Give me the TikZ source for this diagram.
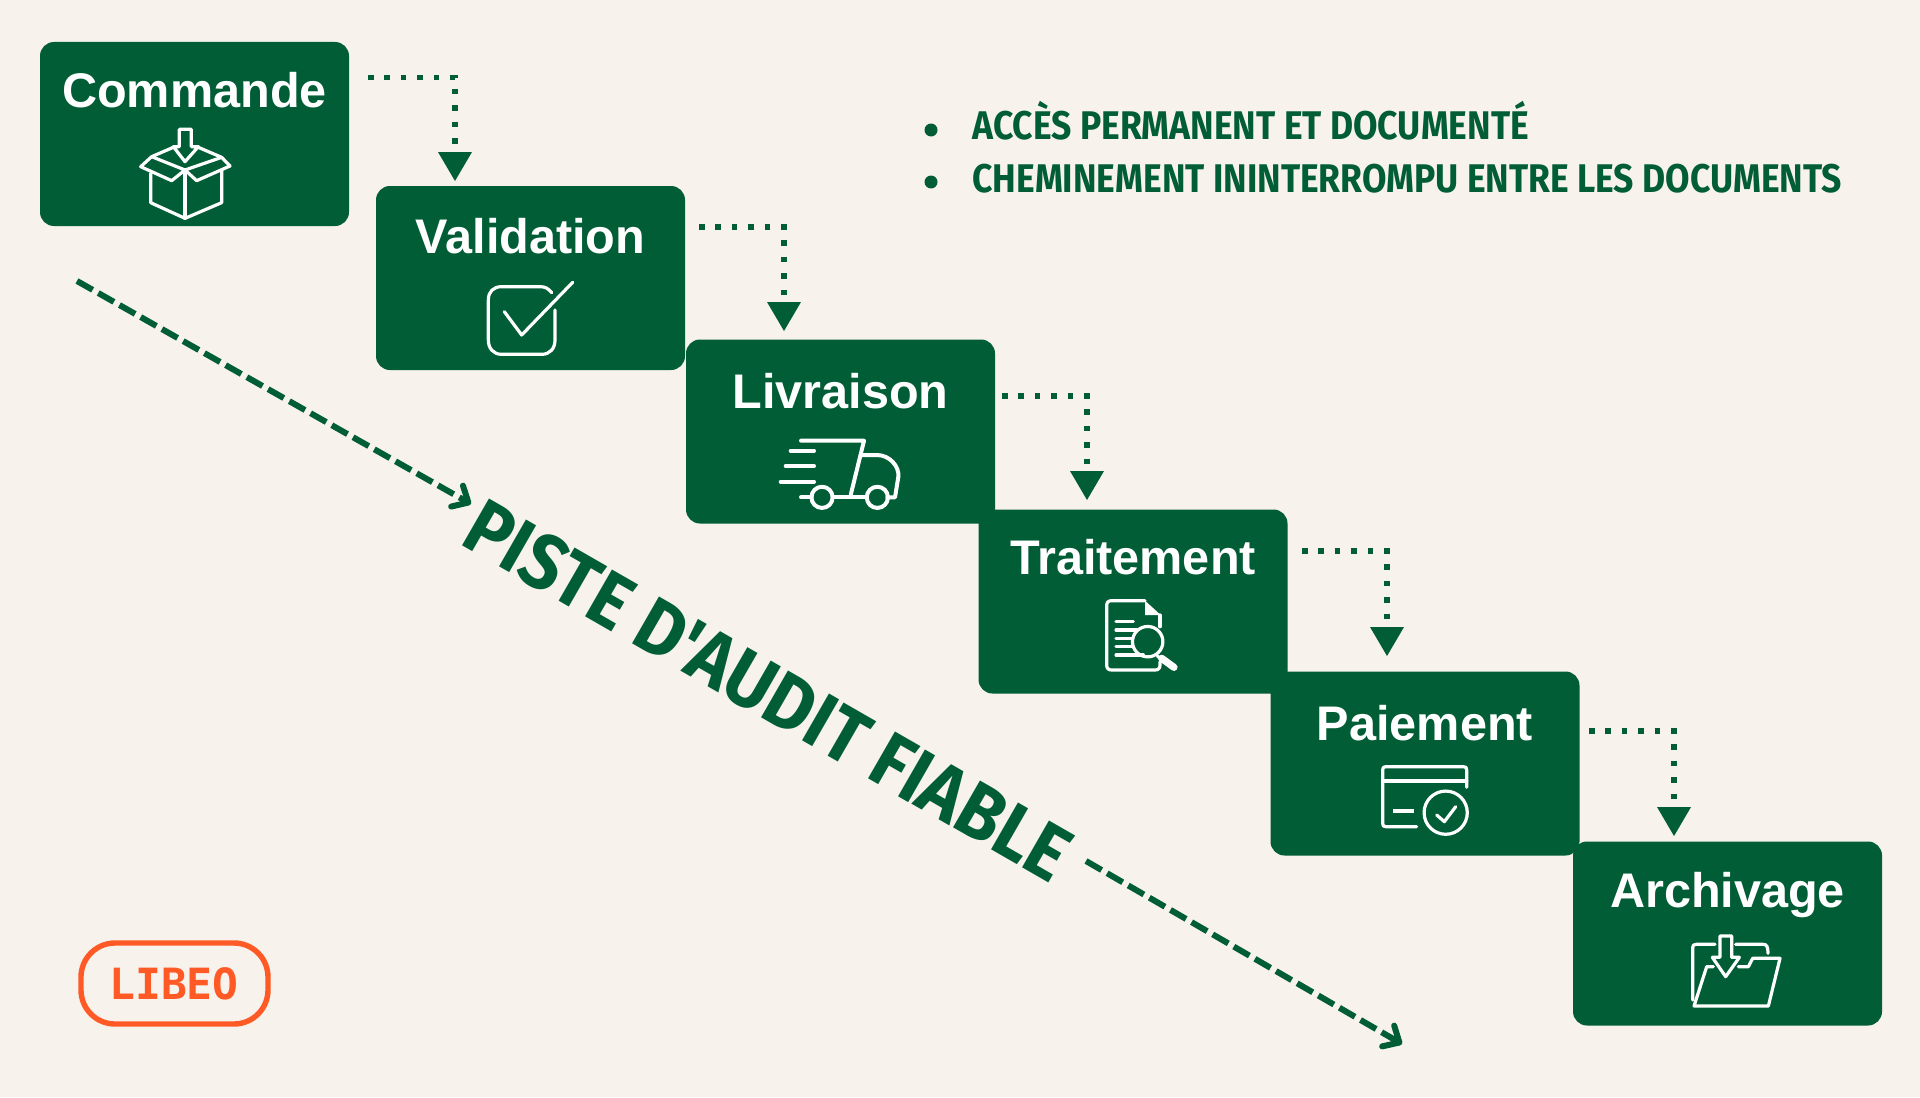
\documentclass[tikz,border=0pt]{standalone}
\usepackage{fontspec}
\setmainfont{Liberation Sans}
\newfontfamily\condfont[FakeStretch=0.887]{Fira Sans}
\newfontfamily\titlefont[FakeStretch=0.915]{Fira Sans}
\newfontfamily\logofont{DejaVu Sans Mono}
\usetikzlibrary{arrows.meta}
\definecolor{pagebg}{HTML}{F7F2EB}
\definecolor{libgreen}{HTML}{005D35}
\definecolor{liborange}{HTML}{FF5A26}
\tikzset{
  stepbox/.style={fill=libgreen,draw=none,rounded corners=7pt,minimum width=154.5pt,minimum height=92pt,inner sep=0pt,outer sep=0pt},
  steplabel/.style={anchor=base,text=white,font=\fontsize{24.3}{28}\selectfont\bfseries,inner sep=0pt},
  flowline/.style={libgreen,line width=2.8pt,dash pattern=on 2.8pt off 5.4pt},
  flowhead/.style={fill=libgreen,draw=none},
  auditline/.style={libgreen,line width=3pt,dash pattern=on 9pt off 3.2pt,-{Straight Barb[length=6.5pt,width=12pt,line width=3pt,round]}},
  iconline/.style={white,line width=1.6pt,line join=round,line cap=round},
  bullettext/.style={anchor=base west,text=libgreen,font=\condfont\fontsize{20}{24}\selectfont\bfseries,inner sep=0pt},
  bulletdot/.style={circle,fill=libgreen,minimum size=6.5pt,inner sep=0pt},
  zoomed/.style={x=0.16667pt,y=-0.16667pt},
}
\begin{document}
\begin{tikzpicture}[x=0.5pt,y=-0.5pt]
\fill[pagebg] (0,0) rectangle (1920,1097);
\useasboundingbox (0,0) rectangle (1920,1097);

% boxes
\node[stepbox] (cmd) at (194.5,134) {};
\node[stepbox] (val) at (530.5,278) {};
\node[stepbox] (liv) at (840.5,431.5) {};
\node[stepbox] (tra) at (1133,601.5) {};
\node[stepbox] (pai) at (1425,763.5) {};
\node[stepbox] (arc) at (1727.5,933.5) {};

\node[steplabel] (cmdt) at (194.5,107) {Commande};
\node[steplabel] (valt) at (530.5,253) {Validation};
\node[steplabel] (livt) at (840.5,408) {Livraison};
\node[steplabel] (trat) at (1133,574) {Traitement};
\node[steplabel] (ptxt) at (1425,740) {Paiement};
\node[steplabel] (arct) at (1727.5,907) {Archivage};

% dotted connectors
\coordinate (c1s) at (368,77.5);   \coordinate (c1c) at (455,77.5);   \coordinate (c1e) at (455,152);  \coordinate (c1t) at (455,181);
\coordinate (c2s) at (699,227);    \coordinate (c2c) at (784,227);    \coordinate (c2e) at (784,302);  \coordinate (c2t) at (784,331);
\coordinate (c3s) at (1002,396);   \coordinate (c3c) at (1087,396);   \coordinate (c3e) at (1087,471); \coordinate (c3t) at (1087,500);
\coordinate (c4s) at (1302,551);   \coordinate (c4c) at (1387,551);   \coordinate (c4e) at (1387,627); \coordinate (c4t) at (1387,656);
\coordinate (c5s) at (1589,731);   \coordinate (c5c) at (1674,731);   \coordinate (c5e) at (1674,807); \coordinate (c5t) at (1674,836);
\foreach \n in {1,...,5}{
  \draw[flowline] (c\n s) -- (c\n c) -- (c\n e);
  \fill[flowhead] ([xshift=-8.5pt]c\n e) -- ([xshift=8.5pt]c\n e) -- (c\n t) -- cycle;
}

% audit arrows
\coordinate (a1s) at (77,281);  \coordinate (a1e) at (471,504);
\coordinate (a2s) at (1086,861); \coordinate (a2e) at (1402,1044);
\draw[auditline] (a1s) -- (a1e);
\draw[auditline] (a2s) -- (a2e);

\node[rotate=-29.9,anchor=base,text=libgreen,inner sep=0pt,font=\titlefont\fontsize{39}{44}\selectfont\bfseries] (piste) at (755,714) {PISTE D'AUDIT FIABLE};

% bullets
\node[bulletdot] (b1) at (931,130) {};
\node[bulletdot] (b2) at (931,182) {};
\node[bullettext] (b1t) at (972,140) {ACCÈS PERMANENT ET DOCUMENTÉ};
\node[bullettext] (b2t) at (972,192) {CHEMINEMENT ININTERROMPU ENTRE LES DOCUMENTS};

% logo
\draw[liborange,line width=2.7pt,rounded corners=17pt] (81,943) -- (268,943) -- (268,1024) -- (81,1024) -- cycle;
\node[text=liborange,inner sep=0pt,font=\logofont\fontsize{21.5}{24}\selectfont\bfseries] (logo) at (174,984) {LIBEO};

% box icon
\begin{scope}[shift={(30,30)},zoomed,iconline]
\draw (332,410) -- (365,380) -- (465,420) -- (425,452) -- cycle;
\draw (465,420) -- (575,382) -- (600,408) -- (500,452) -- cycle;
\draw (365,380) -- (430,352);
\draw (505,352) -- (575,382);
\draw (362,430) -- (362,518) -- (465,565) -- (575,518) -- (575,422);
\draw (465,420) -- (465,565);
\draw (430,350) -- (448,350) -- (448,298) -- (484,298) -- (484,350) -- (505,350) -- (465,395) -- cycle;
\end{scope}

% check icon
\begin{scope}[shift={(440,260)},zoomed,iconline]
\draw (335,98) .. controls (325,85) and (315,80) .. (300,80) -- (185,80) .. controls (160,80) and (145,95) .. (145,120) -- (145,240) .. controls (145,265) and (160,283) .. (185,283) -- (305,283) .. controls (330,283) and (345,265) .. (345,240) -- (345,150);
\draw (193,155) -- (245,225) -- (398,67);
\end{scope}

% truck icon
\begin{scope}[shift={(440,260)},zoomed,iconline,line width=2pt]
\draw (1083,542) -- (1272,542) -- (1232,705);
\draw (1052,572) -- (1122,572);
\draw (1037,618) -- (1122,618);
\draw (1022,665) -- (1122,665);
\draw (1262,585) -- (1310,585) .. controls (1350,585) and (1378,620) .. (1375,650) -- (1365,712) -- (1342,712);
\draw (1083,712) -- (1115,712);
\draw (1178,712) -- (1280,712);
\draw (1146,712) circle[radius=5.3pt];
\draw (1312,712) circle[radius=5.3pt];
\end{scope}

% document icon
\begin{scope}[shift={(1080,580)},zoomed,iconline]
\draw (195,62) -- (95,62) .. controls (85,62) and (80,67) .. (80,77) -- (80,255) .. controls (80,265) and (85,270) .. (95,270) -- (225,270) .. controls (235,270) and (240,265) .. (240,255) -- (240,245);
\draw (240,105) -- (240,140);
\fill[white] (195,62) -- (242,105) -- (195,105) -- cycle;
\draw (108,125) -- (160,125);
\draw (108,150) -- (170,150);
\draw (108,175) -- (155,175);
\draw (108,200) -- (155,200);
\draw (108,225) -- (190,225);
\draw (203,185) circle[radius=7.6pt];
\draw[line width=3.6pt] (245,235) -- (282,262);
\draw (232,228) -- (245,238);
\end{scope}

% card icon
\begin{scope}[shift={(1080,580)},zoomed,iconline]
\draw (1160,622) -- (1160,570) .. controls (1160,562) and (1158,560) .. (1150,560) -- (918,560) .. controls (910,560) and (908,562) .. (908,570) -- (908,730) .. controls (908,738) and (910,740) .. (918,740) -- (1010,740);
\draw (908,603) -- (1160,603);
\draw[line width=2pt,line cap=butt] (940,692) -- (1003,692);
\draw (1097,698) circle[radius=10.8pt];
\draw (1070,705) -- (1093,725) -- (1127,680);
\end{scope}

% folder icon
\begin{scope}[shift={(1680,900)},zoomed,iconline]
\draw (105,133) -- (48,133) .. controls (41,133) and (38,136) .. (38,143) -- (38,300);
\draw (167,133) -- (250,133) .. controls (260,133) and (264,140) .. (264,160);
\draw (120,108) -- (155,108) -- (155,172) -- (178,172) -- (137,230) -- (97,172) -- (120,172) -- cycle;
\draw (100,200) -- (80,200) -- (42,318) -- (265,318) -- (300,175) -- (218,175) -- (205,200) -- (175,200);
\end{scope}
\end{tikzpicture}
\end{document}
